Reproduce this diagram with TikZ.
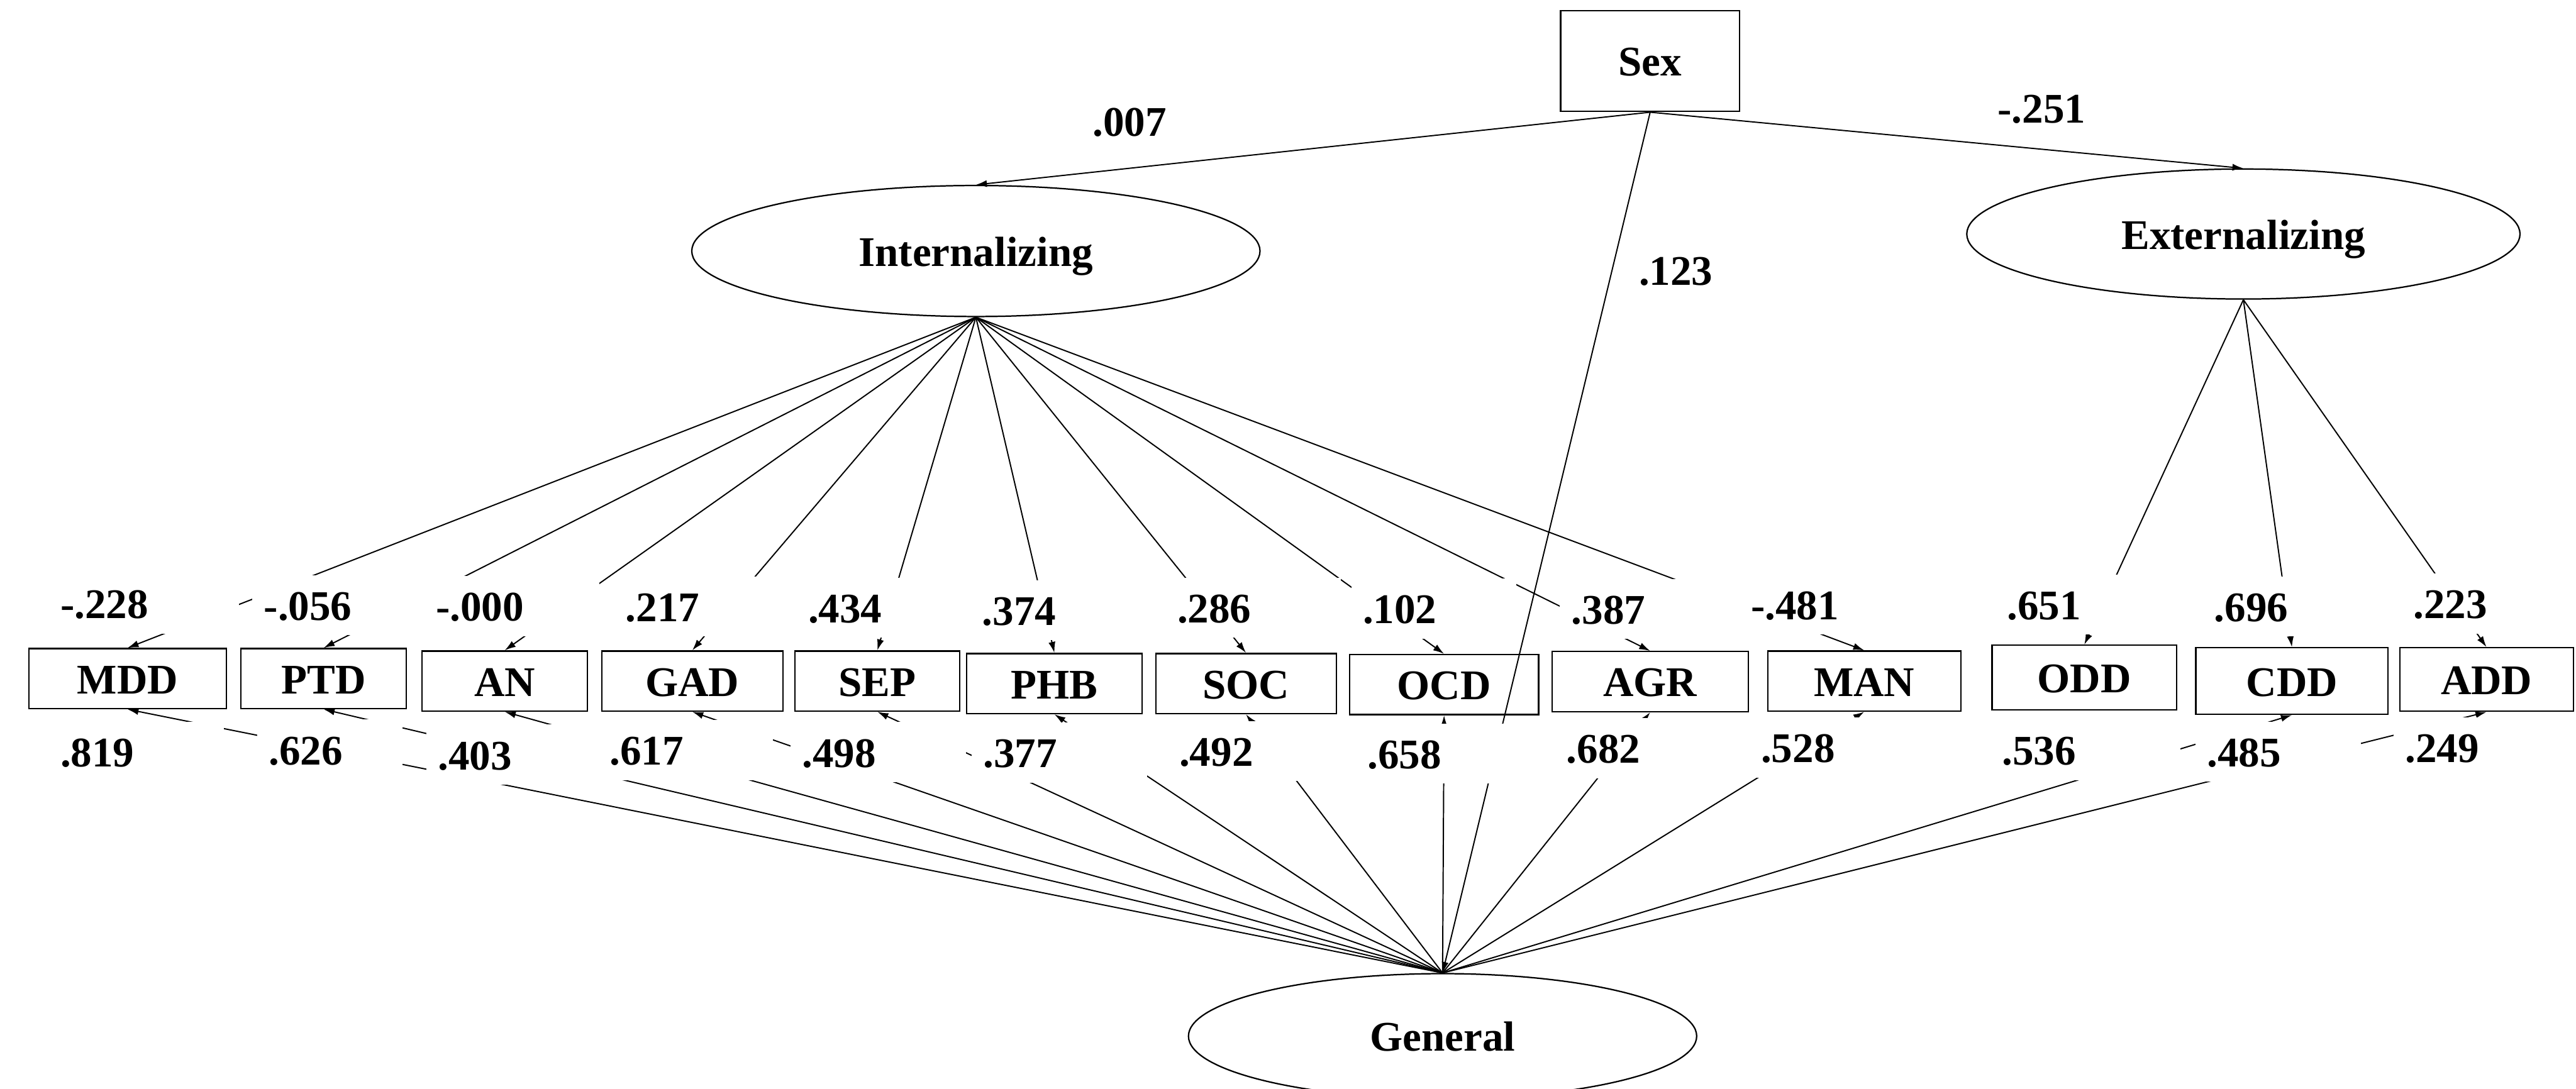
\documentclass[tikz,border=0pt]{standalone}
\usepackage{fontspec}
\setmainfont{Liberation Serif}
\usetikzlibrary{arrows.meta,shapes.geometric}
\newcommand{\semfont}{\fontsize{24}{28}\selectfont\bfseries}
\tikzset{
  obsbox/.style={draw=black, line width=0.8pt, minimum height=12mm, inner sep=0pt,
    text height=6mm, text depth=0mm, font=\semfont},
  latentbox/.style={draw=black, ellipse, line width=0.8pt, inner sep=0pt,
    text height=6mm, text depth=0mm, font=\semfont},
  estlabel/.style={fill=white, anchor=west, align=left,
    inner xsep=2.3mm, inner ysep=3mm, text height=6mm, text depth=0mm, font=\semfont},
  pathlabel/.style={anchor=west, inner sep=0pt, text height=6mm, text depth=0mm, font=\semfont},
  loading/.style={-{Latex[length=2.2mm,width=1.4mm]}, line width=0.7pt}
}
\newcommand{\estat}[4][30.4mm]{\node[estlabel, text width=#1] (#2) at #3 {#4};}

\begin{document}
\begin{tikzpicture}
  \useasboundingbox (0,0) rectangle (51.5,21.77);

  % exogenous and latent variables
  \node[obsbox, minimum width=35.8mm, minimum height=20.2mm] (sex) at (32.99,20.55) {Sex};
  \node[latentbox, minimum width=113.6mm, minimum height=26.2mm] (int) at (19.51,16.75) {Internalizing};
  \node[latentbox, minimum width=110.6mm, minimum height=26mm] (ext) at (44.85,17.09) {Externalizing};
  \node[latentbox, minimum width=101.6mm, minimum height=25mm] (gen) at (28.84,1.05) {General};

  % observed diagnoses
  \node[obsbox, minimum width=39.5mm] (mdd) at (2.55,8.20) {MDD};
  \node[obsbox, minimum width=33.1mm] (ptd) at (6.47,8.20) {PTD};
  \node[obsbox, minimum width=33mm] (an) at (10.09,8.15) {AN};
  \node[obsbox, minimum width=36.2mm] (gad) at (13.84,8.15) {GAD};
  \node[obsbox, minimum width=33mm] (sep) at (17.54,8.15) {SEP};
  \node[obsbox, minimum width=35.1mm] (phb) at (21.08,8.10) {PHB};
  \node[obsbox, minimum width=36.1mm] (soc) at (24.91,8.10) {SOC};
  \node[obsbox, minimum width=37.8mm] (ocd) at (28.87,8.08) {OCD};
  \node[obsbox, minimum width=39.2mm] (agr) at (32.99,8.14) {AGR};
  \node[obsbox, minimum width=38.6mm] (man) at (37.27,8.15) {MAN};
  \node[obsbox, minimum width=36.9mm, minimum height=12.9mm] (odd) at (41.67,8.22) {ODD};
  \node[obsbox, minimum width=38.4mm, minimum height=13.3mm] (cdd) at (45.82,8.15) {CDD};
  \node[obsbox, minimum width=34.7mm, minimum height=12.7mm] (add) at (49.71,8.18) {ADD};

  % sex effects
  \draw[loading] (sex.south) -- (int.north);
  \draw[loading] (sex.south) -- (ext.north);
  \draw[loading] (sex.south) -- (gen.north);

  % internalizing loadings
  \draw[loading] (int.south) -- (mdd.north);
  \draw[loading] (int.south) -- (ptd.north);
  \draw[loading] (int.south) -- (an.north);
  \draw[loading] (int.south) -- (gad.north);
  \draw[loading] (int.south) -- (sep.north);
  \draw[loading] (int.south) -- (phb.north);
  \draw[loading] (int.south) -- (soc.north);
  \draw[loading] (int.south) -- (ocd.north);
  \draw[loading] (int.south) -- (agr.north);
  \draw[loading] (int.south) -- (man.north);

  % externalizing loadings
  \draw[loading] (ext.south) -- (odd.north);
  \draw[loading] (ext.south) -- (cdd.north);
  \draw[loading] (ext.south) -- (add.north);

  % general loadings
  \draw[loading] (gen.north) -- (mdd.south);
  \draw[loading] (gen.north) -- (ptd.south);
  \draw[loading] (gen.north) -- (an.south);
  \draw[loading] (gen.north) -- (gad.south);
  \draw[loading] (gen.north) -- (sep.south);
  \draw[loading] (gen.north) -- (phb.south);
  \draw[loading] (gen.north) -- (soc.south);
  \draw[loading] (gen.north) -- (ocd.south);
  \draw[loading] (gen.north) -- (agr.south);
  \draw[loading] (gen.north) -- (man.south);
  \draw[loading] (gen.north) -- (cdd.south);
  \draw[loading] (gen.north) -- (add.south);

  % sex estimates
  \node[pathlabel] (sexint) at (21.84,19.35) {.007};
  \node[pathlabel] (sexext) at (39.93,19.61) {-.251};
  \node[pathlabel] (sexgen) at (32.76,16.37) {.123};

  % specific factor estimates
  \estat[33.4mm]{lmdd}{(0.97,9.70)}{-.228}
  \estat[33.4mm]{lptd}{(5.04,9.67)}{-.056}
  \estat{lan}{(8.48,9.65)}{-.000}
  \estat{lgad}{(12.27,9.64)}{.217}
  \estat{lsep}{(15.92,9.62)}{.434}
  \estat{lphb}{(19.40,9.57)}{.374}
  \estat{lsoc}{(23.30,9.62)}{.286}
  \estat[28.4mm]{locd}{(27.01,9.60)}{.102}
  \estat[31.9mm]{lagr}{(31.18,9.59)}{.387}
  \estat{lman}{(34.77,9.68)}{-.481}
  \estat{lodd}{(39.89,9.68)}{.651}
  \estat{lcdd}{(44.03,9.64)}{.696}
  \estat{ladd}{(48.01,9.70)}{.223}

  % general factor estimates
  \estat{gmdd}{(0.97,6.74)}{.819}
  \estat[24.4mm]{gptd}{(5.14,6.78)}{.626}
  \estat{gan}{(8.52,6.68)}{.403}
  \estat{ggad}{(11.95,6.77)}{.617}
  \estat{gsep}{(15.80,6.73)}{.498}
  \estat{gphb}{(19.42,6.72)}{.377}
  \estat{gsoc}{(23.34,6.75)}{.492}
  \estat{gocd}{(27.10,6.70)}{.658}
  \estat{gagr}{(31.08,6.81)}{.682}
  \estat{gman}{(34.97,6.82)}{.528}
  \estat[33.4mm]{godd}{(39.79,6.77)}{.536}
  \estat[28.4mm]{gcdd}{(43.89,6.74)}{.485}
  \estat{gadd}{(47.85,6.82)}{.249}
\end{tikzpicture}
\end{document}
